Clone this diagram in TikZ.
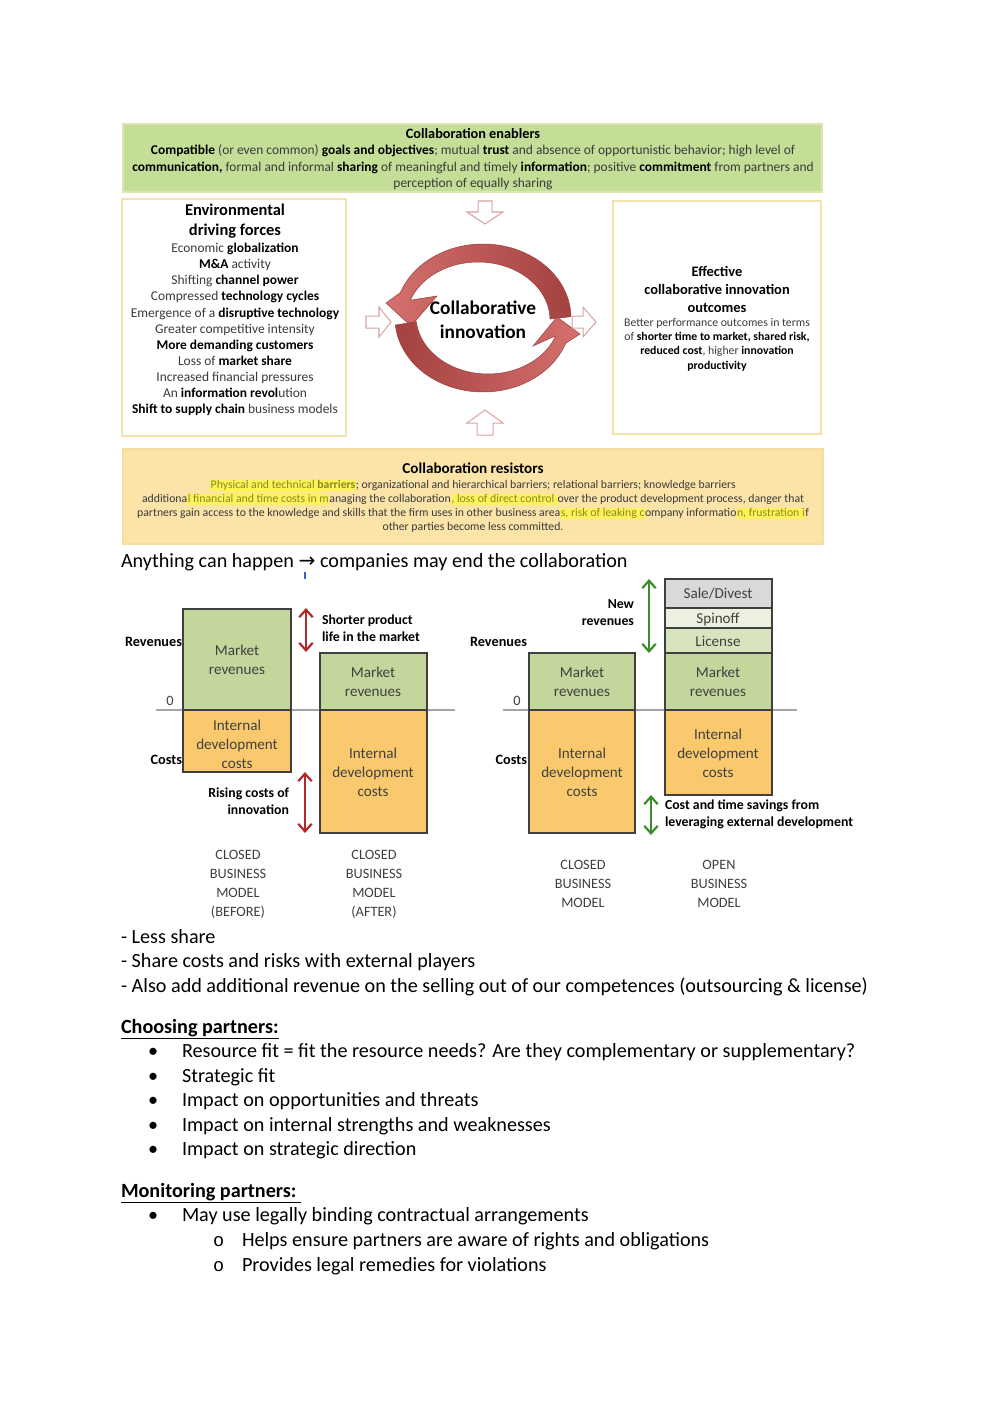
\documentclass[tikz,border=0pt]{standalone}
\usepackage{fontspec}
\setmainfont{Carlito}
\newfontfamily\arrowfont{DejaVu Sans}
\newfontfamily\bulmono{Liberation Mono}
\usetikzlibrary{arrows.meta}
\definecolor{enabfill}{HTML}{C2DE97}
\definecolor{enabline}{HTML}{DDE6B0}
\definecolor{boxline}{HTML}{F3E2AC}
\definecolor{resfill}{HTML}{FCE4A9}
\definecolor{resline}{HTML}{F6DD9C}
\definecolor{hly}{HTML}{FDF25A}
\definecolor{olivetxt}{HTML}{8A8A22}
\definecolor{txtg}{HTML}{3A3A3A}
\definecolor{ringlight}{HTML}{D4706D}
\definecolor{ringdark}{HTML}{A4423F}
\definecolor{ringedge}{HTML}{9A3E3C}
\definecolor{hollow}{HTML}{D9A3A3}
\definecolor{cgreen}{HTML}{C3D69B}
\definecolor{corange}{HTML}{FAC96D}
\definecolor{cgray}{HTML}{D9D9D9}
\definecolor{clic}{HTML}{D7E4BD}
\definecolor{cspin}{HTML}{EBF1DE}
\definecolor{arrred}{HTML}{B3282D}
\definecolor{arrgreen}{HTML}{3C8C2E}
\definecolor{zeroline}{HTML}{A6A6A6}
\definecolor{boxedge}{HTML}{3F3F3F}
\definecolor{chtxt}{HTML}{404040}
\definecolor{bluemark}{HTML}{3A5FCD}
\newcommand\fsz[2]{\fontsize{#1}{#2}\selectfont}
\newcommand\B[1]{\textbf{\color{black}#1}}
\newcommand\hlt[1]{\begingroup\setlength\fboxsep{0.3pt}\colorbox{hly}{\vphantom{Ag}#1}\endgroup}
\begin{document}
\begin{tikzpicture}[x=0.595pt,y=-0.595pt,
  every node/.style={inner sep=0pt,outer sep=0pt},
  enabtitle/.style={font=\fsz{8.5}{10}\bfseries},
  enabbody/.style={font=\fsz{8}{9.8},align=center,text=txtg},
  envtitle/.style={font=\fsz{9.8}{11.9}\bfseries,align=center},
  envbody/.style={font=\fsz{8}{9.58},align=center,text=txtg},
  ringtext/.style={font=\fsz{11.5}{14.3}\bfseries,align=center},
  outtitle/.style={font=\fsz{8.6}{10.7}\bfseries,align=center},
  outbody/.style={font=\fsz{7}{8.53},align=center,text=txtg},
  restitle/.style={font=\fsz{9}{11}\bfseries},
  resbody/.style={font=\fsz{7}{8.33},align=center,text=txtg},
  bodytext/.style={font=\fsz{12}{14.6},anchor=base west,yshift=-1.2pt},
  hollowarrow/.style={draw=hollow,fill=white,line width=0.6pt,line join=miter},
  chbox/.style={draw=boxedge,line width=0.9pt},
  chtext/.style={font=\fsz{9}{11.3},align=center,text=chtxt},
  chlabel/.style={font=\fsz{8.2}{10.1}\bfseries},
  axlabel/.style={font=\fsz{8.5}{10}\bfseries,anchor=east},
  modeltext/.style={font=\fsz{8.5}{11.3},align=center,text=chtxt},
  redarr/.style={draw=arrred,line width=1.3pt,{Straight Barb[length=4.5pt,width=8pt]}-{Straight Barb[length=4.5pt,width=8pt]}},
  greenarr/.style={draw=arrgreen,line width=1.3pt,{Straight Barb[length=4.5pt,width=8pt]}-{Straight Barb[length=4.5pt,width=8pt]}}
]
\useasboundingbox[fill=white] (0,0) rectangle (1000,1414);

% ---------- Enablers ----------
\draw[fill=enabfill,draw=enabline,line width=0.8pt] (123,124) rectangle (822,192);
\node[enabtitle] (enabT) at (473,134) {Collaboration enablers};
\node[enabbody] (enabB) at (473,167.5) {\B{Compatible} (or even common) \B{goals and objectives}; mutual \B{trust} and absence of opportunistic behavior; high level of\\
\B{communication,} formal and informal \B{sharing} of meaningful and timely \B{information}; positive \B{commitment} from partners and\\
perception of equally sharing};

% ---------- Environmental box ----------
\draw[draw=boxline,line width=0.8pt] (122,199) rectangle (346,436);
\node[envtitle] (envT) at (235,221) {Environmental\\driving forces};
\node[envbody] (envB) at (235,329.5) {Economic \B{globalization}\\
\B{M\&A} activity\\
Shifting \B{channel power}\\
Compressed \B{technology cycles}\\
Emergence of a \B{disruptive technology}\\
Greater competitive intensity\\
\B{More demanding customers}\\
Loss of \B{market share}\\
Increased financial pressures\\
An \B{information revol}ution\\
\B{Shift to supply chain} business models};

% ---------- Outcomes box ----------
\draw[draw=boxline,line width=0.8pt] (613,201) rectangle (821,434);
\node[outtitle] (outT) at (717,289) {Effective\\collaborative innovation\\outcomes};
\node[outbody] (outB) at (717,344.5) {Better performance outcomes in terms\\
of \B{shorter time to market, shared risk,}\\
\B{reduced cost}, higher \B{innovation}\\
\B{productivity}};

% ---------- Circular arrows ----------
\shade[left color=ringlight,right color=ringdark,draw=ringedge,line width=0.3pt]
  plot[domain=-1:-160,samples=60,variable=\t] ({483+88*cos(\t)},{318+74*sin(\t)})
  -- (386,303) -- (411,326) -- (437,296)
  -- plot[domain=-160:-1,samples=60,variable=\t] ({478+72*cos(\t)},{320+58*sin(\t)})
  -- cycle;
\shade[left color=ringdark,right color=ringlight,draw=ringedge,line width=0.3pt]
  plot[domain=174.5:20,samples=60,variable=\t] ({483+88*cos(\t)},{318+74*sin(\t)})
  -- (580,334) -- (557,317) -- (533,346)
  -- plot[domain=20:174.5,samples=60,variable=\t] ({488+72*cos(\t)},{316+58*sin(\t)})
  -- cycle;
\node[ringtext] (ringT) at (483,320) {Collaborative\\innovation};

% hollow arrows
\draw[hollowarrow] (478,201) -- (492,201) -- (492,212) -- (503,212) -- (485,224) -- (467,212) -- (478,212) -- cycle;
\draw[hollowarrow] (485,410) -- (503,423) -- (493,423) -- (493,435) -- (477,435) -- (477,423) -- (467,423) -- cycle;
\draw[hollowarrow] (366,316) -- (379,316) -- (379,307) -- (391,322) -- (379,337) -- (379,328) -- (366,328) -- cycle;
\draw[hollowarrow] (572,316) -- (583,316) -- (583,307) -- (596,322) -- (583,337) -- (583,328) -- (572,328) -- cycle;

% ---------- Resistors ----------
\draw[fill=resfill,draw=resline,line width=0.8pt] (123,449) rectangle (823,544);
\node[restitle] (resT) at (473,468) {Collaboration resistors};
\node[resbody] (resB) at (473,506) {\hlt{\color{olivetxt}Physical and technical \textbf{barriers}}; organizational and hierarchical barriers; relational barriers; knowledge barriers\\
additiona\hlt{\color{olivetxt}l financial and time costs in m}anaging the collaboration\hlt{\color{olivetxt}, loss of direct control }over the product development process, danger that\\
partners gain access to the knowledge and skills that the firm uses in other business area\hlt{\color{olivetxt}s, risk of leaking c}ompany informatio\hlt{\color{olivetxt}n, frustration i}f\\
other parties become less committed.};

% ---------- Anything can happen ----------
\node[bodytext] (anyth) at (121,565) {Anything can happen {\arrowfont →} companies may end the collaboration};
\draw[bluemark,line width=1.2pt] (305,572) -- (305,579);

% ---------- Left chart ----------
\draw[zeroline,line width=0.7pt] (156,710) -- (455,710);
\draw[chbox,fill=cgreen] (183,609) rectangle (291,710);
\draw[chbox,fill=corange] (183,710) rectangle (291,772);
\draw[chbox,fill=cgreen] (320,653) rectangle (427,710);
\draw[chbox,fill=corange] (320,710) rectangle (427,833);
\node[axlabel] (revL) at (182,642) {Revenues};
\node[font=\fsz{8.5}{10},text=chtxt] (zeroL) at (170,701) {0};
\node[axlabel] (costL) at (182,760) {Costs};
\node[chtext] (mr1) at (237,659.5) {Market\\revenues};
\node[chtext] (idc1) at (237,744) {Internal\\development\\costs};
\node[chtext] (mr2) at (373,681.5) {Market\\revenues};
\node[chtext] (idc2) at (373,772) {Internal\\development\\costs};
\coordinate (ra1t) at (306,608); \coordinate (ra1b) at (306,652);
\draw[redarr] (ra1t) -- (ra1b);
\node[chlabel,anchor=west,align=left] (shorter) at (322,628.5) {Shorter product\\life in the market};
\coordinate (ra2t) at (305,772); \coordinate (ra2b) at (305,833);
\draw[redarr] (ra2t) -- (ra2b);
\node[chlabel,anchor=east,align=right] (rising) at (289,801.5) {Rising costs of\\innovation};
\node[modeltext] (cbm1) at (238,884.5) {CLOSED\\BUSINESS\\MODEL\\(BEFORE)};
\node[modeltext] (cbm2) at (374,884.5) {CLOSED\\BUSINESS\\MODEL\\(AFTER)};

% ---------- Right chart ----------
\draw[zeroline,line width=0.7pt] (503,710) -- (797,710);
\draw[chbox,fill=cgreen] (529,653) rectangle (635,710);
\draw[chbox,fill=corange] (529,710) rectangle (635,833);
\draw[chbox,fill=cgray] (665,579) rectangle (772,608);
\draw[chbox,fill=cspin] (665,608) rectangle (772,628);
\draw[chbox,fill=clic] (665,628) rectangle (772,653);
\draw[chbox,fill=cgreen] (665,653) rectangle (772,710);
\draw[chbox,fill=corange] (665,710) rectangle (772,795);
\node[axlabel] (revR) at (527,642) {Revenues};
\node[font=\fsz{8.5}{10},text=chtxt] (zeroR) at (517,701) {0};
\node[axlabel] (costR) at (527,760) {Costs};
\node[chtext] (mr3) at (582,681.5) {Market\\revenues};
\node[chtext] (idc3) at (582,772) {Internal\\development\\costs};
\node[chtext] (sale) at (718,594) {Sale/Divest};
\node[chtext] (spin) at (718,619) {Spinoff};
\node[chtext] (lic) at (718,641) {License};
\node[chtext] (mr4) at (718,681.5) {Market\\revenues};
\node[chtext] (idc4) at (718,753) {Internal\\development\\costs};
\coordinate (ga1t) at (649,579); \coordinate (ga1b) at (649,653);
\draw[greenarr] (ga1t) -- (ga1b);
\node[chlabel,anchor=east,align=right] (newrev) at (634,612.5) {New\\revenues};
\coordinate (ga2t) at (651,795); \coordinate (ga2b) at (651,835);
\draw[greenarr] (ga2t) -- (ga2b);
\node[chlabel,anchor=west,align=left] (savings) at (665,814.5) {Cost and time savings from\\leveraging external development};
\node[modeltext] (cbm3) at (583,884) {CLOSED\\BUSINESS\\MODEL};
\node[modeltext] (obm) at (719,884) {OPEN\\BUSINESS\\MODEL};

% ---------- Text below ----------
\node[bodytext] (l1) at (121,941) {- Less share};
\node[bodytext] (l2) at (121,965) {- Share costs and risks with external players};
\node[bodytext] (l3) at (121,990) {- Also add additional revenue on the selling out of our competences (outsourcing \& license)};
\node[bodytext] (h1) at (121,1031) {\textbf{\underline{Choosing partners:}}};
\node[bodytext] (b1d) at (148,1055) {\textbullet};
\node[bodytext] (b1) at (182,1055) {Resource fit = fit the resource needs? Are they complementary or supplementary?};
\node[bodytext] (b2d) at (148,1080) {\textbullet};
\node[bodytext] (b2) at (182,1080) {Strategic fit};
\node[bodytext] (b3d) at (148,1104) {\textbullet};
\node[bodytext] (b3) at (182,1104) {Impact on opportunities and threats};
\node[bodytext] (b4d) at (148,1129) {\textbullet};
\node[bodytext] (b4) at (182,1129) {Impact on internal strengths and weaknesses};
\node[bodytext] (b5d) at (148,1153) {\textbullet};
\node[bodytext] (b5) at (182,1153) {Impact on strategic direction};
\node[bodytext] (h2) at (121,1195) {\textbf{\underline{Monitoring partners:\ }}};
\node[bodytext] (b6d) at (148,1219) {\textbullet};
\node[bodytext] (b6) at (182,1219) {May use legally binding contractual arrangements};
\node[bodytext,font=\bulmono\fsz{11}{13}] (s1d) at (213,1244) {o};
\node[bodytext] (s1) at (242,1244) {Helps ensure partners are aware of rights and obligations};
\node[bodytext,font=\bulmono\fsz{11}{13}] (s2d) at (213,1269) {o};
\node[bodytext] (s2) at (242,1269) {Provides legal remedies for violations};
\end{tikzpicture}
\end{document}
